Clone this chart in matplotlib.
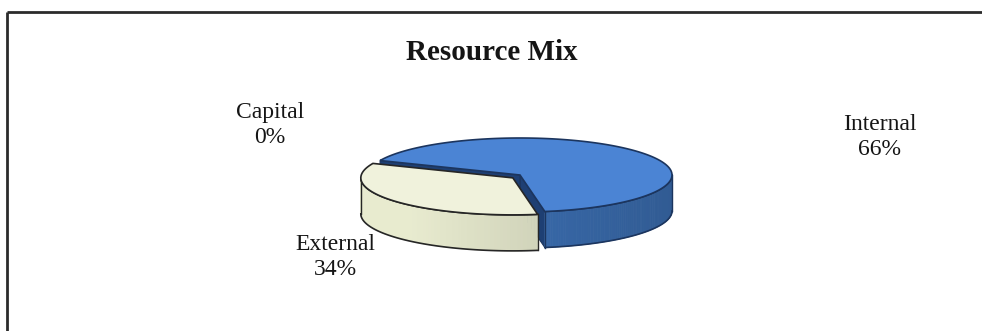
import numpy as np
import matplotlib
matplotlib.use('Agg')
import matplotlib.pyplot as plt
from matplotlib.patches import Polygon
from matplotlib.colors import to_rgb

# chart data
categories = ['Internal', 'External', 'Capital']
shares = [66, 34, 0]
explode = [0.0, 0.06, 0.0]

title = 'Resource Mix'

# colours per slice: top, side, cut face, outline
top_colors = ['#4b84d4', '#f0f2dc', '#9bbb59']
side_colors = ['#3d72b8', '#e8ebcf', '#7f9a48']
face_colors = ['#1e3f73', '#c9cdb0', '#5f7a30']
edge_colors = ['#1c355e', '#262626', '#333333']

# pie geometry in pixels
cx, cy = 520, 175
rx, ry = 152, 37
depth = 36
start_angle = 157  # slices go clockwise from here

label_pos = {'Internal': (880, 137), 'External': (335, 257), 'Capital': (270, 125)}

fig = plt.figure(figsize=(9.82, 3.31), dpi=100)
fig.patch.set_facecolor('white')
ax = fig.add_axes([0, 0, 1, 1])
ax.set_xlim(0, 982)
ax.set_ylim(331, 0)
ax.axis('off')

# frame
ax.plot([7, 982], [12, 12], color='#2b2b2b', lw=2, solid_capstyle='butt')
ax.plot([7, 7], [12, 331], color='#2b2b2b', lw=2, solid_capstyle='butt')


def pt(t, ox, oy, dz=0.0):
    r = np.radians(t)
    return cx + ox + rx * np.cos(r), cy + oy - ry * np.sin(r) + dz


def shade(color, t):
    k = 0.92 - 0.12 * np.cos(np.radians(t))
    k = min(k, 1.0)
    return tuple(min(1, c * k) for c in to_rgb(color))


total = float(sum(shares))
slices = []
a = start_angle
for i, s in enumerate(shares):
    span = 360.0 * s / total
    lo, hi = a - span, a
    a = lo
    if span <= 0:
        continue
    mid = np.radians((lo + hi) / 2)
    ox = explode[i] * rx * np.cos(mid)
    oy = -explode[i] * ry * np.sin(mid) + explode[i] * 25
    slices.append((i, lo, hi, ox, oy, np.sin(mid)))

# back slices first
slices.sort(key=lambda s: -s[5])

for i, lo, hi, ox, oy, _ in slices:
    c0 = (cx + ox, cy + oy)
    ec = edge_colors[i]
    # radial cut faces
    for ang, nrm in ((lo, lo - 90), (hi, hi + 90)):
        if np.sin(np.radians(nrm)) < 0:
            x1, y1 = pt(ang, ox, oy)
            quad = [c0, (x1, y1), (x1, y1 + depth), (c0[0], c0[1] + depth)]
            ax.add_patch(Polygon(quad, closed=True, fc=face_colors[i], ec=ec, lw=0.8, zorder=2))
    # outer rim, front part only
    for k in range(-1, 3):
        a0 = max(lo, -180 + 360 * k)
        a1 = min(hi, 0 + 360 * k)
        if a1 <= a0:
            continue
        ts = np.linspace(a0, a1, 80)
        for j in range(len(ts) - 1):
            p1 = pt(ts[j], ox, oy)
            p2 = pt(ts[j + 1], ox, oy)
            quad = [p1, p2, (p2[0], p2[1] + depth), (p1[0], p1[1] + depth)]
            col = shade(side_colors[i], (ts[j] + ts[j + 1]) / 2)
            ax.add_patch(Polygon(quad, closed=True, fc=col, ec=col, lw=0.6, zorder=2))
        top = [pt(t, ox, oy) for t in ts]
        bot = [pt(t, ox, oy, depth) for t in ts]
        ax.plot([p[0] for p in top], [p[1] for p in top], color=ec, lw=1.2, zorder=3)
        ax.plot([p[0] for p in bot], [p[1] for p in bot], color=ec, lw=1.2, zorder=3)
        for t in (a0, a1):
            xa, ya = pt(t, ox, oy)
            ax.plot([xa, xa], [ya, ya + depth], color=ec, lw=1.0, zorder=3)
    # top surface
    ts = np.linspace(lo, hi, 200)
    poly = [c0] + [pt(t, ox, oy) for t in ts]
    ax.add_patch(Polygon(poly, closed=True, fc=top_colors[i], ec=ec, lw=1.2, zorder=3))

# labels
for cat, s in zip(categories, shares):
    x, y = label_pos[cat]
    ax.text(x, y, f'{cat}\n{s}%', ha='center', va='center', fontsize=17,
            family='Liberation Serif', color='#151515', linespacing=1.25)

ax.text(492, 52, title, ha='center', va='center', fontsize=21, weight='bold',
        family='Liberation Serif', color='#151515')

fig.savefig('out.png', dpi=100, facecolor='white')
